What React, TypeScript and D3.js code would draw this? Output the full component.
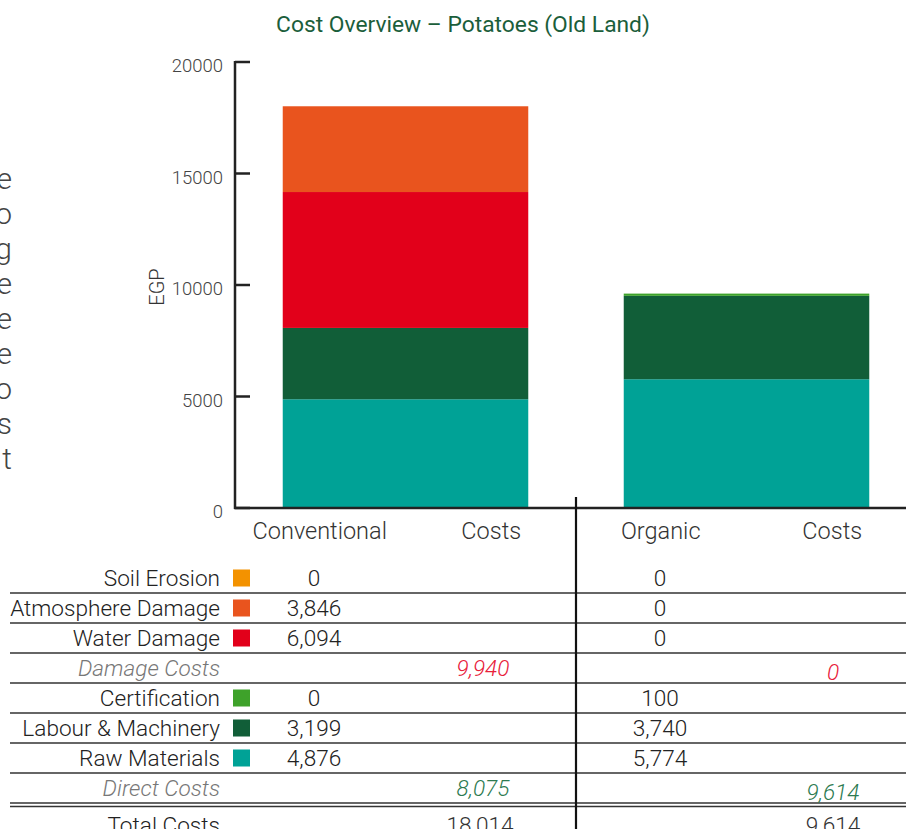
import React from "react";
import * as d3 from "d3";

const categories = ["Conventional", "Organic"];
const costLabels = ["Costs", "Costs"];
const rawMaterials = [4876, 5774];
const labourMachinery = [3199, 3740];
const certification = [0, 100];
const waterDamage = [6094, 0];
const atmosphereDamage = [3846, 0];
const soilErosion = [0, 0];
const damageCosts = [9940, 0];
const directCosts = [8075, 9614];
const totalCosts = [18014, 9614];
const yTicks = [0, 5000, 10000, 15000, 20000];
const sideLetters = ["e", "o", "g", "e", "e", "e", "o", "s", "t"];

const series = [
  { key: "Raw Materials", values: rawMaterials, color: "#00a296" },
  { key: "Labour & Machinery", values: labourMachinery, color: "#115e38" },
  { key: "Certification", values: certification, color: "#3ea22a" },
  { key: "Water Damage", values: waterDamage, color: "#e2001a" },
  { key: "Atmosphere Damage", values: atmosphereDamage, color: "#e9541e" },
  { key: "Soil Erosion", values: soilErosion, color: "#f39200" },
];

const FONT = "Roboto, 'Open Sans', sans-serif";
const TS = 22.6;

export default function App() {
  const W = 906, H = 829;
  const y = d3.scaleLinear().domain([0, 20000]).range([508, 62]);
  const x = d3.scaleBand().domain(categories).range([235, 917]).paddingInner(0.28).paddingOuter(0.14);
  const colorOf = (k: string) => series.find((s) => s.key === k)!.color;

  const data = categories.map((c, i) => {
    const o: any = { cat: c };
    series.forEach((s) => (o[s.key] = s.values[i]));
    return o;
  });
  const stack = d3.stack().keys(series.map((s) => s.key))(data as any);

  type Row = { label: string; kind: "item" | "sub" | "total"; color?: string; vals: number[]; subColor?: string };
  const rows: Row[] = [
    { label: "Soil Erosion", kind: "item", color: colorOf("Soil Erosion"), vals: soilErosion },
    { label: "Atmosphere Damage", kind: "item", color: colorOf("Atmosphere Damage"), vals: atmosphereDamage },
    { label: "Water Damage", kind: "item", color: colorOf("Water Damage"), vals: waterDamage },
    { label: "Damage Costs", kind: "sub", vals: damageCosts, subColor: "#e8203a" },
    { label: "Certification", kind: "item", color: colorOf("Certification"), vals: certification },
    { label: "Labour & Machinery", kind: "item", color: colorOf("Labour & Machinery"), vals: labourMachinery },
    { label: "Raw Materials", kind: "item", color: colorOf("Raw Materials"), vals: rawMaterials },
    { label: "Direct Costs", kind: "sub", vals: directCosts, subColor: "#2c7a50" },
    { label: "Total Costs", kind: "total", vals: totalCosts },
  ];
  const fmt = d3.format(",");
  const rowY = (i: number) => (i < 8 ? 578 + 30 * i : 825);
  const valCol = [314, 660];
  const costCol = [483, 833];

  return (
    <svg width={W} height={H} style={{ position: "absolute", left: 0, top: 0 }} fontFamily={FONT}>
      <rect width={W} height={H} fill="#fff" />
      <text x={463} y={24} textAnchor="middle" dy="0.35em" fontSize={22.8} fill="#1b5e3b">
        Cost Overview – Potatoes (Old Land)
      </text>
      {sideLetters.map((l, i) => (
        <text key={i} x={12} y={178 + i * 35} dy="0.35em" textAnchor="end" fontSize={30} fontWeight={300} fill="#444">
          {l}
        </text>
      ))}
      {stack.map((layer, li) =>
        layer.map((d, di) => {
          const h = y(d[0]) - y(d[1]);
          if (h <= 0) return null;
          return (
            <rect key={li + "-" + di} x={x(categories[di])} y={y(d[1])} width={x.bandwidth()} height={h} fill={series[li].color} />
          );
        })
      )}
      {/* axis */}
      <line x1={235} x2={235} y1={61} y2={509} stroke="#222" strokeWidth={2.5} />
      <line x1={234} x2={906} y1={508} y2={508} stroke="#222" strokeWidth={2.5} />
      {yTicks.map((t) => (
        <g key={t}>
          <line x1={235} x2={250} y1={y(t)} y2={y(t)} stroke="#222" strokeWidth={2.5} />
          <text x={223} y={y(t) + 4} textAnchor="end" dy="0.35em" fontSize={18.5} fontWeight={300} fill="#444">
            {t}
          </text>
        </g>
      ))}
      <text transform={`translate(157,287) rotate(-90)`} textAnchor="middle" dy="0.35em" fontSize={20} fontWeight={300} fill="#333">
        EGP
      </text>
      {categories.map((c, i) => {
        const x0 = x(c)!;
        return (
          <g key={c}>
            <text x={x0 + 37} y={531} textAnchor="middle" dy="0.35em" fontSize={23.5} fontWeight={300} fill="#333">
              {c}
            </text>
            <text x={x0 + x.bandwidth() - 37} y={531} textAnchor="middle" dy="0.35em" fontSize={23.5} fontWeight={300} fill="#333">
              {costLabels[i]}
            </text>
          </g>
        );
      })}
      {/* table lines */}
      {d3.range(7).map((i) => (
        <line key={i} x1={10} x2={906} y1={593 + 30 * i} y2={593 + 30 * i} stroke="#333" strokeWidth={1.3} />
      ))}
      <line x1={10} x2={906} y1={803} y2={803} stroke="#333" strokeWidth={1.3} />
      <line x1={10} x2={906} y1={806.5} y2={806.5} stroke="#333" strokeWidth={1.3} />
      <line x1={576} x2={576} y1={497} y2={829} stroke="#111" strokeWidth={2.2} />
      {rows.map((r, i) => {
        const cy = rowY(i);
        return (
          <g key={r.label}>
            <text
              x={220}
              y={cy}
              dy="0.35em"
              textAnchor="end"
              fontSize={TS}
              fontWeight={300}
              fontStyle={r.kind === "sub" ? "italic" : "normal"}
              fill={r.kind === "sub" ? "#777" : "#222"}
            >
              {r.label}
            </text>
            {r.color && <rect x={233} y={cy - 8.5} width={17} height={17} fill={r.color} />}
            {r.kind === "item" &&
              r.vals.map((v, j) => (
                <text key={j} x={valCol[j]} y={cy} dy="0.35em" textAnchor="middle" fontSize={TS} fontWeight={300} fill="#222">
                  {fmt(v)}
                </text>
              ))}
            {r.kind === "sub" &&
              r.vals.map((v, j) => (
                <text
                  key={j}
                  x={costCol[j]}
                  y={cy + (j === 1 ? 4 : 0)}
                  dy="0.35em"
                  textAnchor="middle"
                  fontSize={TS}
                  fontWeight={300}
                  fontStyle="italic"
                  fill={r.subColor}
                >
                  {fmt(v)}
                </text>
              ))}
            {r.kind === "total" &&
              r.vals.map((v, j) => (
                <text key={j} x={costCol[j] - (j === 0 ? 3 : 0)} y={cy} dy="0.35em" textAnchor="middle" fontSize={TS} fontWeight={300} fill="#333">
                  {fmt(v)}
                </text>
              ))}
          </g>
        );
      })}
    </svg>
  );
}
